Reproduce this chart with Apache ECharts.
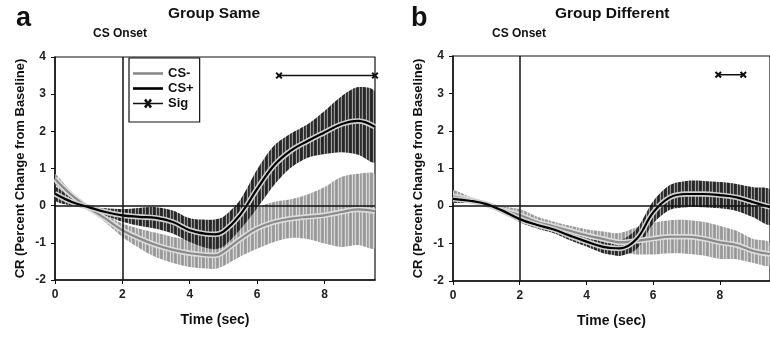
<!DOCTYPE html>
<html>
<head>
<meta charset="utf-8">
<script src="https://cdn.jsdelivr.net/npm/echarts@6/dist/echarts.min.js"></script>
<style>
html,body{margin:0;padding:0;background:#fff;}
#chart{width:770px;height:337px;}
</style>
</head>
<body>
<div id="chart"></div>
<script>
// ---- data ----
var times = [0,0.5,1,1.5,2,2.5,3,3.5,4,4.5,4.75,5,5.5,6,6.5,7,7.5,8,8.5,9,9.5];
var xTicks = [0,2,4,6,8];
var yTicks = [-2,-1,0,1,2,3,4];

// Group Same (panel a)
var samePlusMean  = [0.32,0.10,-0.04,-0.17,-0.26,-0.30,-0.33,-0.44,-0.66,-0.76,-0.77,-0.70,-0.24,0.45,1.08,1.48,1.74,1.97,2.19,2.28,2.12];
var samePlusErr   = [0.18,0.10,0.04,0.10,0.17,0.24,0.29,0.31,0.32,0.38,0.40,0.40,0.40,0.52,0.53,0.46,0.45,0.58,0.75,0.91,0.94];
var sameMinusMean = [0.72,0.28,-0.06,-0.35,-0.66,-0.88,-1.06,-1.19,-1.28,-1.33,-1.34,-1.24,-0.90,-0.61,-0.44,-0.35,-0.30,-0.26,-0.17,-0.10,-0.15];
var sameMinusErr  = [0.13,0.08,0.05,0.10,0.18,0.26,0.33,0.35,0.37,0.36,0.36,0.38,0.47,0.55,0.54,0.52,0.60,0.76,0.94,0.96,0.98];
var sameSig = [[6.65,3.5],[9.5,3.5]];

// Group Different (panel b)
var diffPlusMean  = [0.19,0.14,0.05,-0.13,-0.35,-0.50,-0.62,-0.79,-0.95,-1.09,-1.12,-1.13,-0.88,-0.17,0.23,0.32,0.32,0.29,0.23,0.10,-0.03];
var diffPlusErr   = [0.09,0.06,0.04,0.05,0.08,0.09,0.10,0.12,0.13,0.17,0.18,0.20,0.27,0.30,0.33,0.35,0.35,0.35,0.36,0.40,0.46];
var diffMinusMean = [0.26,0.17,0.04,-0.11,-0.24,-0.42,-0.54,-0.66,-0.78,-0.88,-0.93,-0.97,-0.93,-0.87,-0.82,-0.82,-0.87,-0.97,-1.04,-1.20,-1.28];
var diffMinusErr  = [0.15,0.08,0.05,0.10,0.16,0.15,0.13,0.14,0.16,0.20,0.22,0.25,0.36,0.42,0.44,0.45,0.45,0.44,0.38,0.32,0.30];
var diffSig = [[7.95,3.5],[8.7,3.5]];

var csOnset = 2;

// ---- helpers ----
function stripes(cols){
  var c = document.createElement('canvas');
  c.width = cols.length; c.height = 4;
  var g = c.getContext('2d');
  for (var i=0;i<cols.length;i++){ g.fillStyle = cols[i]; g.fillRect(i,0,1,4); }
  return c;
}
var darkPat = stripes(['#252525','#363636','rgba(140,140,140,0.8)','#2e2e2e','#3f3f3f','rgba(120,120,120,0.8)','#2a2a2a']);
var grayPat = stripes(['#959595','#a4a4a4','#dadada','#9e9e9e','#adadad','#d2d2d2','#a0a0a0']);

function pairs(arr){ return times.map(function(t,i){ return [t, arr[i]]; }); }

var FONT = 'Liberation Sans, Arial, sans-serif';
var xsym = 'path://M0,2L2,0L5,3L8,0L10,2L7,5L10,8L8,10L5,7L2,10L0,8L3,5Z';
var lineIcon = 'path://M0,0H30V2.6H0Z';
var sigIcon = 'path://M0,4.3H30V5.7H0Z M11,2L13,0L15,3L17,0L19,2L16.5,5L19,8L17,10L15,7L13,10L11,8L13.5,5Z';

function bandSeries(gi, m, e, pat, z){
  return {type:'custom', xAxisIndex:gi, yAxisIndex:gi, data:[[times[0], m[0]]], clip:true, silent:true, z:z,
    renderItem:function(params, api){
      var up = [], lo = [];
      for (var i=0;i<times.length;i++){
        up.push(api.coord([times[i], m[i]+e[i]]));
        lo.push(api.coord([times[i], m[i]-e[i]]));
      }
      var pts = up.concat(lo.reverse());
      return {type:'polygon', shape:{points:pts, smooth:0.3},
        style:{fill:{image:pat, repeat:'repeat'}, stroke:null}};
    }};
}
function meanSeries(gi, name, m, col, outline, z){
  return [
    {type:'line', name:name+'_o', xAxisIndex:gi, yAxisIndex:gi, data:pairs(m), smooth:0.4, symbol:'none',
     lineStyle:{color:outline, width:5.5}, silent:true, z:z},
    {type:'line', name:name, xAxisIndex:gi, yAxisIndex:gi, data:pairs(m), smooth:0.4, symbol:'none',
     lineStyle:{color:col, width:2.2}, itemStyle:{color:col}, silent:true, z:z+0.1}
  ];
}
function sigSeries(gi, d){
  return {type:'line', name:'Sig', xAxisIndex:gi, yAxisIndex:gi, data:d, symbol:xsym, symbolSize:7,
    showSymbol:true, lineStyle:{color:'#111', width:1.5}, itemStyle:{color:'#111'}, silent:true, z:6,
    markLine:{silent:true, symbol:['none','none'], label:{show:false},
      lineStyle:{color:'#111', type:'solid', width:1.5},
      data:[{xAxis:csOnset},{yAxis:0}]}};
}

function xAxis(gi){
  return {type:'value', gridIndex:gi, min:0, max:9.5, interval:2,
    name:'Time (sec)', nameLocation:'middle', nameGap:33,
    nameTextStyle:{fontFamily:FONT, fontWeight:'bold', fontSize:14, color:'#111'},
    axisLine:{show:true, onZero:false, lineStyle:{color:'#111', width:1.5}},
    axisTick:{show:true, length:4, lineStyle:{color:'#111'}},
    axisLabel:{showMaxLabel:false, margin:9, fontFamily:FONT, fontWeight:'bold', fontSize:12, color:'#222',
      formatter:function(v){ return xTicks.indexOf(v) >= 0 ? String(v) : ''; }},
    splitLine:{show:false}};
}
function yAxis(gi){
  return {type:'value', gridIndex:gi, min:-2, max:4, interval:1,
    name:'CR (Percent Change from Baseline)', nameLocation:'middle', nameGap:28,
    nameTextStyle:{fontFamily:FONT, fontWeight:'bold', fontSize:13, color:'#111'},
    axisLine:{show:true, onZero:false, lineStyle:{color:'#111', width:1.5}},
    axisTick:{show:true, length:4, lineStyle:{color:'#111'}},
    axisLabel:{margin:9, fontFamily:FONT, fontWeight:'bold', fontSize:12, color:'#222',
      formatter:function(v){ return yTicks.indexOf(v) >= 0 ? String(v) : ''; }},
    splitLine:{show:false}};
}

var series = [];
series.push(bandSeries(0,sameMinusMean,sameMinusErr,grayPat,1));
series.push(bandSeries(0,samePlusMean,samePlusErr,darkPat,2));
series = series.concat(meanSeries(0,'CS-',sameMinusMean,'#8a8a8a','#dcdcdc',3));
series = series.concat(meanSeries(0,'CS+',samePlusMean,'#000','#d0d0d0',4));
series.push(sigSeries(0,sameSig));
series.push(bandSeries(1,diffMinusMean,diffMinusErr,grayPat,1));
series.push(bandSeries(1,diffPlusMean,diffPlusErr,darkPat,2));
series = series.concat(meanSeries(1,'CS-',diffMinusMean,'#8a8a8a','#dcdcdc',3));
series = series.concat(meanSeries(1,'CS+',diffPlusMean,'#000','#d0d0d0',4));
series.push(sigSeries(1,diffSig));

var tStyle = function(size){ return {fontFamily:FONT, fontWeight:'bold', fontSize:size, color:'#111'}; };

var option = {
  animation:false,
  backgroundColor:'#fff',
  title:[
    {text:'a', left:16, top:5, textStyle:tStyle(27), padding:0},
    {text:'Group Same', left:168, top:6, textStyle:tStyle(15.5), padding:0},
    {text:'CS Onset', left:93, top:28, textStyle:tStyle(12), padding:0},
    {text:'b', left:411, top:5, textStyle:tStyle(27), padding:0},
    {text:'Group Different', left:555, top:6, textStyle:tStyle(15.5), padding:0},
    {text:'CS Onset', left:492, top:28, textStyle:tStyle(12), padding:0}
  ],
  legend:{
    data:[{name:'CS-', icon:lineIcon},{name:'CS+', icon:lineIcon},{name:'Sig', icon:sigIcon}],
    orient:'vertical', left:129, top:58,
    backgroundColor:'#fff', borderColor:'#111', borderWidth:1.2,
    padding:[9,6,12,4], itemGap:2, itemWidth:30, itemHeight:14,
    textStyle:{fontFamily:FONT, fontWeight:'bold', fontSize:13, color:'#111'},
    selectedMode:false
  },
  grid:[
    {left:55, top:57, width:320, height:223, show:true, borderColor:'#111', borderWidth:1.2, backgroundColor:'transparent'},
    {left:453, top:56, width:321, height:225, show:true, borderColor:'#111', borderWidth:1.2, backgroundColor:'transparent'}
  ],
  xAxis:[xAxis(0), xAxis(1)],
  yAxis:[yAxis(0), yAxis(1)],
  series:series
};

var chart = echarts.init(document.getElementById('chart'), null, {renderer:'canvas'});
chart.setOption(option);
</script>
</body>
</html>
